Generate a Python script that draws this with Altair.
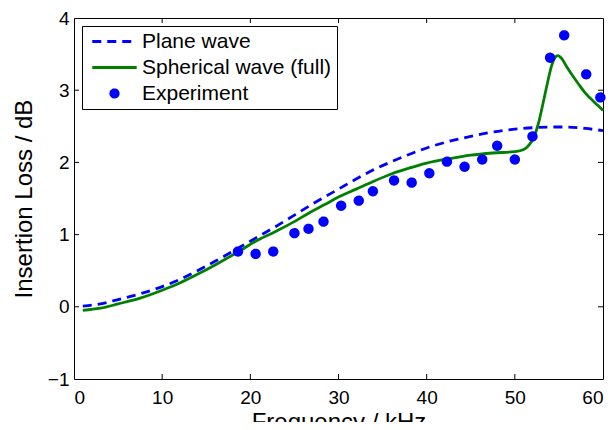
import altair as alt
import pandas as pd

# ---- data ----
plane_f = [1, 3, 5, 7.5, 10, 12, 14, 16, 18.6, 21, 23, 25, 27, 30, 32, 34, 36, 38, 40,
           42.5, 45, 47.5, 50, 52, 54, 56, 58, 60]
plane_v = [0.01, 0.04, 0.10, 0.18, 0.28, 0.38, 0.50, 0.63, 0.81, 0.98, 1.12, 1.27, 1.42,
           1.63, 1.77, 1.90, 2.01, 2.11, 2.20, 2.29, 2.36, 2.42, 2.46, 2.48, 2.49, 2.49,
           2.47, 2.44]

sph_f = [1, 3, 5, 7.5, 10, 12, 14, 16, 18.6, 20.5, 22.8, 25, 26.8, 28.5, 30, 32, 34, 36,
         38, 40, 42.5, 45, 47.5, 50, 51, 51.6, 52.2, 52.7, 53.2, 53.7, 54.2, 54.6, 54.9,
         55.3, 55.9, 56.5, 57.2, 58, 58.8, 59.4, 60]
sph_v = [-0.05, -0.02, 0.04, 0.12, 0.23, 0.33, 0.45, 0.58, 0.76, 0.90, 1.04, 1.18, 1.31,
         1.42, 1.52, 1.63, 1.74, 1.84, 1.92, 1.99, 2.05, 2.10, 2.13, 2.15, 2.18, 2.24,
         2.36, 2.55, 2.82, 3.10, 3.35, 3.46, 3.48, 3.44, 3.32, 3.21, 3.09, 2.96, 2.86,
         2.79, 2.72]

exp_f = [18.6, 20.6, 22.6, 25.0, 26.6, 28.3, 30.3, 32.3, 33.9, 36.3, 38.3, 40.3, 42.3,
         44.3, 46.3, 48.0, 50.0, 52.0, 54.0, 55.6, 58.1, 59.7]
exp_v = [0.765, 0.733, 0.765, 1.02, 1.08, 1.18, 1.40, 1.47, 1.60, 1.75, 1.72, 1.85, 2.01,
         1.94, 2.04, 2.23, 2.04, 2.36, 3.45, 3.76, 3.22, 2.90]

series_names = ["Plane wave", "Spherical wave (full)", "Experiment"]
x_ticks = [0, 10, 20, 30, 40, 50, 60]
y_ticks = [-1, 0, 1, 2, 3, 4]
x_inner_ticks = [10, 20, 30, 40, 50]
y_inner_ticks = [0, 1, 2, 3]

BLUE = "#0000ff"
GREEN = "#008000"
FONT = "Liberation Sans"
LINE_SYM = "M-6,0H6"   # legend line sample (scaled by symbol size)

plane_df = pd.DataFrame({"f": plane_f, "v": plane_v})
sph_df = pd.DataFrame({"f": sph_f, "v": sph_v})
exp_df = pd.DataFrame({"f": exp_f, "v": exp_v, "series": "Experiment"})

xscale = alt.Scale(domain=[0, 60], nice=False, zero=False)
yscale = alt.Scale(domain=[-1, 4], nice=False, zero=False)

xax = alt.Axis(values=x_ticks, format="d", title="Frequency / kHz", grid=False, domain=False,
               ticks=False, tickSize=0, labelFlush=4, labelPadding=9,
               labelFontSize=19, titleFontSize=24, titlePadding=3,
               labelFont=FONT, titleFont=FONT, titleFontWeight="normal",
               labelColor="black", titleColor="black")
yax = alt.Axis(values=y_ticks, format="d", title="Insertion Loss / dB", grid=False, domain=False,
               ticks=False, tickSize=0, labelFlush=False, labelPadding=5,
               labelFontSize=19, titleFontSize=24, titlePadding=10.5,
               labelFont=FONT, titleFont=FONT, titleFontWeight="normal",
               labelColor="black", titleColor="black")

plane = alt.Chart(plane_df).mark_line(
    color=BLUE, strokeWidth=2.8, strokeDash=[9, 6], interpolate="monotone"
).encode(x=alt.X("f:Q", scale=xscale, axis=xax), y=alt.Y("v:Q", scale=yscale, axis=yax))

sph = alt.Chart(sph_df).mark_line(
    color=GREEN, strokeWidth=2.8, interpolate="monotone"
).encode(x=alt.X("f:Q", scale=xscale), y=alt.Y("v:Q", scale=yscale))

legend = alt.Legend(
    title=None, orient="none", legendX=8, legendY=8,
    labelFont=FONT, labelFontSize=21, labelColor="black", labelLimit=400,
    symbolSize=55, symbolOffset=17, labelOffset=17,
    symbolStrokeWidth=2.8, strokeColor="black", fillColor="white",
    padding=5, rowPadding=4, cornerRadius=0,
)

points = alt.Chart(exp_df).mark_point(
    filled=True, opacity=1, strokeWidth=2.5, size=62
).encode(
    x=alt.X("f:Q", scale=xscale),
    y=alt.Y("v:Q", scale=yscale),
    fill=alt.Fill("series:N", scale=alt.Scale(domain=series_names, range=[BLUE, GREEN, BLUE]), legend=legend),
    stroke=alt.Stroke("series:N", scale=alt.Scale(domain=series_names, range=[BLUE, GREEN, BLUE]), legend=legend),
    shape=alt.Shape("series:N", scale=alt.Scale(domain=series_names, range=[LINE_SYM, LINE_SYM, "circle"]), legend=legend),
    strokeDash=alt.StrokeDash("series:N", scale=alt.Scale(domain=series_names, range=[[9, 6], [1, 0], [1, 0]]), legend=legend),
)

xt_df = pd.DataFrame({"f": x_inner_ticks * 2, "v": [-1] * len(x_inner_ticks) + [4] * len(x_inner_ticks)})
yt_df = pd.DataFrame({"f": [0] * len(y_inner_ticks) + [60] * len(y_inner_ticks), "v": y_inner_ticks * 2})

xt = alt.Chart(xt_df).mark_tick(orient="vertical", size=10, thickness=1, color="black",
                                opacity=1, clip=True).encode(
    x=alt.X("f:Q", scale=xscale), y=alt.Y("v:Q", scale=yscale))
yt = alt.Chart(yt_df).mark_tick(orient="horizontal", size=10, thickness=1, color="black",
                                opacity=1, clip=True).encode(
    x=alt.X("f:Q", scale=xscale), y=alt.Y("v:Q", scale=yscale))

chart = alt.layer(plane, sph, xt, yt, points).properties(
    width=529, height=361,
    autosize=alt.AutoSizeParams(type="none"),
    padding={"left": 66, "top": 10, "right": 4, "bottom": 43},
    background="white",
).configure_view(stroke="black", strokeWidth=1)

chart.save("out.html", embed_options={"renderer": "svg", "actions": False})
